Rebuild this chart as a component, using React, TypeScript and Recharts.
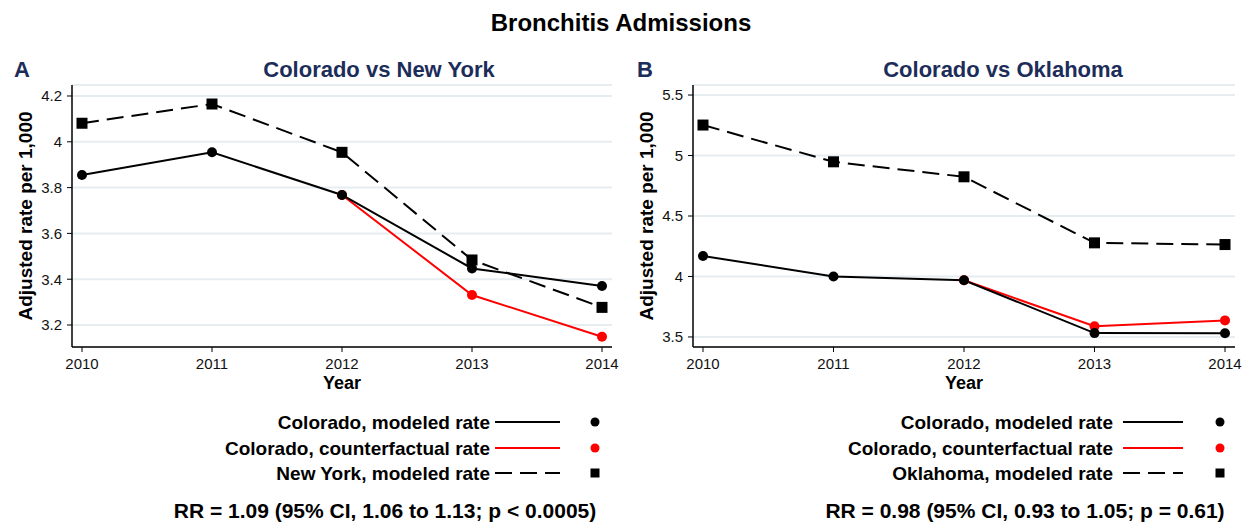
import React from "react";
import { LineChart, Line, XAxis, YAxis, CartesianGrid } from "recharts";

const years = [2010, 2011, 2012, 2013, 2014];

// Panel A: Colorado vs New York
const nyColorado = [3.855, 3.954, 3.768, 3.447, 3.37];
const nyCounterfactual = [null, null, 3.768, 3.331, 3.149];
const newYork = [4.081, 4.165, 3.954, 3.484, 3.277];
const nyTicks = [3.2, 3.4, 3.6, 3.8, 4.0, 4.2];

// Panel B: Colorado vs Oklahoma
const okColorado = [4.17, 4.0, 3.969, 3.532, 3.53];
const okCounterfactual = [null, null, 3.969, 3.588, 3.637];
const oklahoma = [5.252, 4.948, 4.824, 4.278, 4.264];
const okTicks = [3.5, 4, 4.5, 5, 5.5];

const FONT = '"Liberation Sans", Arial, Helvetica, sans-serif';
const NAVY = "#1c2d5a";
const GRID = "#e6edf1";

const SquareDot = (props: any) => {
  const { cx, cy, index } = props;
  if (cx == null || cy == null) return <g key={`sq-${index}`} />;
  return <rect key={`sq-${index}`} x={cx - 5.5} y={cy - 5.5} width={11} height={11} fill="#000" />;
};

interface PanelProps {
  left: number;
  width: number;
  colorado: (number | null)[];
  counterfactual: (number | null)[];
  other: (number | null)[];
  domain: [number, number];
  ticks: number[];
}

function Panel({ left, width, colorado, counterfactual, other, domain, ticks }: PanelProps) {
  const data = years.map((y, i) => ({
    year: y,
    colorado: colorado[i],
    counterfactual: counterfactual[i],
    other: other[i],
  }));
  return (
    <div style={{ position: "absolute", left, top: 0 }}>
      <LineChart
        width={width}
        height={400}
        data={data}
        margin={{ top: 85, right: width === 625 ? 13 : 15, left: 0, bottom: 23 }}
      >
        <CartesianGrid vertical={false} stroke={GRID} strokeWidth={2} />
        <XAxis
          dataKey="year"
          type="number"
          domain={[2010, 2014]}
          ticks={years}
          padding={{ left: 10, right: 10 }}
          height={30}
          tickSize={5}
          tickMargin={6}
          axisLine={{ stroke: "#000", strokeWidth: 1.5 }}
          tickLine={{ stroke: "#000", strokeWidth: 1 }}
          tick={{ fontSize: 15, fill: "#111", fontFamily: FONT }}
        />
        <YAxis
          type="number"
          domain={domain}
          ticks={ticks}
          allowDataOverflow
          width={72}
          tickSize={5}
          tickMargin={5}
          axisLine={{ stroke: "#000", strokeWidth: 1.5 }}
          tickLine={{ stroke: "#000", strokeWidth: 1 }}
          tick={{ fontSize: 15, fill: "#111", fontFamily: FONT }}
        />
        <Line
          dataKey="counterfactual"
          stroke="#ff0000"
          strokeWidth={2}
          dot={{ r: 5, fill: "#ff0000", stroke: "#ff0000", strokeWidth: 0 }}
          isAnimationActive={false}
        />
        <Line
          dataKey="other"
          stroke="#000"
          strokeWidth={2}
          strokeDasharray="17 8"
          dot={SquareDot}
          isAnimationActive={false}
        />
        <Line
          dataKey="colorado"
          stroke="#000"
          strokeWidth={2}
          dot={{ r: 5, fill: "#000", stroke: "#000", strokeWidth: 0 }}
          isAnimationActive={false}
        />
      </LineChart>
    </div>
  );
}

function LegendBlock({ textEnd, lineStart, lineEnd, marker, state, rr, rrCenter }: any) {
  const rows = [
    { label: "Colorado, modeled rate", color: "#000", dash: undefined, shape: "circle" },
    { label: "Colorado, counterfactual rate", color: "#ff0000", dash: undefined, shape: "circle" },
    { label: `${state}, modeled rate`, color: "#000", dash: "17 8", shape: "square" },
  ];
  const ys = [422, 448, 473];
  return (
    <g>
      {rows.map((r, i) => (
        <g key={r.label}>
          <text
            x={textEnd}
            y={ys[i]}
            textAnchor="end"
            dominantBaseline="central"
            fontSize={19}
            fontWeight="bold"
            fill="#000"
          >
            {r.label}
          </text>
          <line x1={lineStart} x2={lineEnd} y1={ys[i]} y2={ys[i]} stroke={r.color} strokeWidth={2} strokeDasharray={r.dash} />
          {r.shape === "circle" ? (
            <circle cx={marker} cy={ys[i]} r={4.5} fill={r.color} />
          ) : (
            <rect x={marker - 4.5} y={ys[i] - 4.5} width={9} height={9} fill="#000" />
          )}
        </g>
      ))}
      <text x={rrCenter} y={510} textAnchor="middle" dominantBaseline="central" fontSize={21} fontWeight="bold" fill="#000">
        {rr}
      </text>
    </g>
  );
}

export default function App() {
  return (
    <div
      style={{
        position: "absolute",
        left: 0,
        top: 0,
        width: 1250,
        height: 523,
        background: "#fff",
        fontFamily: FONT,
        overflow: "hidden",
      }}
    >
      <Panel
        left={0}
        width={625}
        colorado={nyColorado}
        counterfactual={nyCounterfactual}
        other={newYork}
        domain={[3.104, 4.248]}
        ticks={nyTicks}
      />
      <Panel
        left={621}
        width={629}
        colorado={okColorado}
        counterfactual={okCounterfactual}
        other={oklahoma}
        domain={[3.417, 5.583]}
        ticks={okTicks}
      />
      <svg
        width={1250}
        height={523}
        style={{ position: "absolute", left: 0, top: 0, pointerEvents: "none", fontFamily: FONT }}
      >
        <text x={621} y={22} textAnchor="middle" dominantBaseline="central" fontSize={24} fontWeight="bold" fill="#000">
          Bronchitis Admissions
        </text>
        <text x={14} y={69} dominantBaseline="central" fontSize={22} fontWeight="bold" fill={NAVY}>
          A
        </text>
        <text x={379} y={69} textAnchor="middle" dominantBaseline="central" fontSize={22} fontWeight="bold" fill={NAVY}>
          Colorado vs New York
        </text>
        <text x={637} y={69} dominantBaseline="central" fontSize={22} fontWeight="bold" fill={NAVY}>
          B
        </text>
        <text x={1003} y={69} textAnchor="middle" dominantBaseline="central" fontSize={22} fontWeight="bold" fill={NAVY}>
          Colorado vs Oklahoma
        </text>
        <text
          x={25}
          y={216}
          transform="rotate(-90 25 216)"
          textAnchor="middle"
          dominantBaseline="central"
          fontSize={19}
          fontWeight="bold"
          fill="#000"
        >
          Adjusted rate per 1,000
        </text>
        <text
          x={646}
          y={216}
          transform="rotate(-90 646 216)"
          textAnchor="middle"
          dominantBaseline="central"
          fontSize={19}
          fontWeight="bold"
          fill="#000"
        >
          Adjusted rate per 1,000
        </text>
        <text x={342} y={383} textAnchor="middle" dominantBaseline="central" fontSize={18} fontWeight="bold" fill="#000">
          Year
        </text>
        <text x={964} y={383} textAnchor="middle" dominantBaseline="central" fontSize={18} fontWeight="bold" fill="#000">
          Year
        </text>
        <LegendBlock
          textEnd={490}
          lineStart={495}
          lineEnd={560}
          marker={595}
          state="New York"
          rr="RR = 1.09 (95% CI, 1.06 to 1.13; p < 0.0005)"
          rrCenter={385}
        />
        <LegendBlock
          textEnd={1113}
          lineStart={1123}
          lineEnd={1183}
          marker={1220}
          state="Oklahoma"
          rr="RR = 0.98 (95% CI, 0.93 to 1.05; p = 0.61)"
          rrCenter={1025}
        />
      </svg>
    </div>
  );
}
